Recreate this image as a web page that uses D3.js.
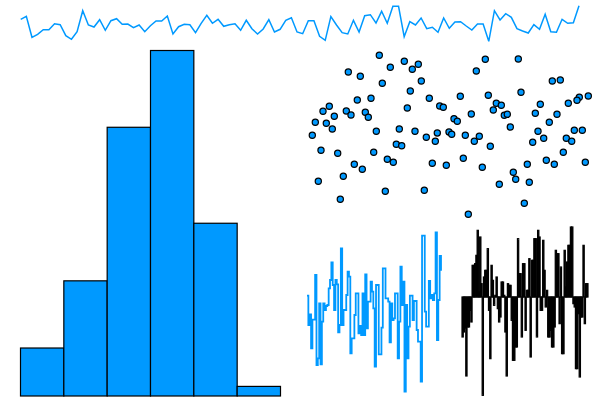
<!DOCTYPE html>
<html><head><meta charset="utf-8">
<script src="https://cdn.jsdelivr.net/npm/d3@7"></script>
<style>html,body{margin:0;padding:0;background:#fff}svg{display:block}</style>
</head><body>
<svg id="chart" width="600" height="400"></svg>
<script>
// ---- data ----
const lineValues = [25.7,28.7,7.7,10.7,15.3,15.3,21.3,20.3,9.3,5.7,13.3,34.3,20,18,25.3,14.7,24.3,26.3,20.7,21,
17.3,20,13.3,19.3,24,24,29,11,18.3,20.7,20.3,12.3,21.7,29.7,21.7,25.7,18.7,20.3,21.3,14.7,
24.7,16.3,11,16,25.3,13,15.7,24.7,27.3,13,11.3,24.3,24.3,8.7,4.7,28.3,20,12.3,11,24.7,
13,29.3,30.3,22,33.7,21.7,38.7,38.7,8.3,23.3,20,27,16.3,17.7,12.7,27,16.7,23,23.3,19,
15,21,21,3.7,34.3,25,31.3,27.7,16.3,14,12,20.3,15.7,30.7,13.3,12.7,25.7,21.7,22.3,39.3];

const binEdges = [-3,-2,-1,0,1,2,3];
const binCounts = [5,12,28,36,18,1];

const scatterX = [79.3,104.3,118.3,112.3,90.3,48.3,60.3,185.3,218.3,176.3,82.3,121.3,252.3,260.3,110.3,221,57.3,71,129.3,160.3,
188.3,279.3,288.3,277,268.3,240.3,29.3,23,46.3,51,65.3,68.3,34.3,107.3,139.7,143.3,196.3,201.3,193.3,171.3,
154,157.3,204.3,207.3,235.3,257,15.3,26.3,32.3,76.3,99.3,115,210.3,249.3,238,274.3,282.3,12.3,126.3,137.3,
135.3,149,151.7,165.3,174.3,179.3,190.3,232.7,243.7,266.3,271.7,21,37.7,73.7,96.3,101.7,54.3,62.3,87.3,93.3,
132.3,146.3,163.3,182.3,213.3,215.7,199.3,229.3,227.3,246.3,254.3,263.3,285.3,18.3,43.3,40.3,85.3,124.3,224.3,168.3];
const scatterY = [174.7,168.7,165.7,160.7,162.7,158,153.7,170.7,171,159,146.7,149,149,150,139,137.7,130,131.7,131.7,133.7,
134.7,132.7,134,129.7,126.7,125.7,123.7,118.7,119,115,117.7,112.7,113.7,122,124,122.7,126.7,124.7,120,116,
111.3,108.7,114.7,115.7,116.7,115.7,107.7,106.7,101,98.7,101,98.7,103,107.7,98.7,99.7,99.7,94.7,92.7,97,
88.7,98,95.7,94.7,88.7,93.7,83.7,87.7,91.7,91.7,88.7,79.7,76.7,77.7,85.7,84.3,65.7,60.7,70.7,67.7,
66.7,64.7,71.7,62.7,57.7,50.7,45.7,47.7,65.7,69.7,65.7,77.7,67.7,48.7,53.7,30.7,38.7,39.7,26.7,15.7];

const stepValues = [0.48,-0.40,-0.08,-1.10,-0.24,-0.24,1.10,-1.60,-1.40,0.25,-1.58,-0.30,0.25,0.05,0.17,0.20,0.70,0.95,1.48,0.80,
0.05,0.95,0.82,-0.62,-0.40,1.90,-0.40,0.05,0.05,0.50,1.20,1.05,-1.25,-0.80,-0.80,-0.10,0.55,0.55,-0.65,-0.43,
-0.70,0.55,-0.70,1.12,-0.50,0.30,0.30,0.90,0.60,0.10,-1.65,0.80,0.80,-1.28,-1.28,-0.48,1.30,1.30,0.40,0.40,
0.30,-0.92,0.25,-0.25,-0.20,0.55,0.55,-1.40,-0.30,1.35,0.20,0.90,-2.40,0.20,-1.40,-0.45,0.48,0.48,-0.25,0.32,
0.32,-0.55,-0.90,-0.90,-2.10,2.28,2.28,0.00,-0.45,-0.45,0.92,0.40,0.50,0.35,0.55,2.38,-0.85,0.35,1.67,1.23];

const barValues = [-1.20,-1.05,-0.93,-2.37,-0.90,-0.90,-0.40,-0.75,0.95,0.95,1.00,1.25,2.00,0.15,1.80,0.40,-2.95,0.60,0.80,0.80,
1.45,-0.40,-1.85,0.95,0.50,-0.25,0.05,0.60,-0.35,-0.75,-0.60,0.45,0.45,0.05,-1.05,-2.37,0.40,0.35,0.35,-0.70,
-1.90,-1.90,-1.50,-1.50,1.75,0.70,0.70,-1.20,1.00,1.00,-1.00,0.20,0.20,1.15,-1.80,1.10,1.10,1.75,1.75,-1.20,
2.00,1.80,-0.40,-0.40,1.70,0.80,-0.30,0.20,-1.20,-1.20,-1.00,-1.50,-1.50,-0.90,1.40,1.30,1.30,-0.80,0.90,-1.70,
-1.70,1.40,0.30,1.05,1.55,1.55,2.10,2.10,-0.20,-0.30,-2.15,-2.15,-0.50,-2.40,-0.60,-0.60,1.55,-0.80,0.40,0.40];

// ---- drawing ----
const svg = d3.select("#chart");
const BLUE = "#0099ff";

// top line
const lx = d3.scaleLinear().domain([0, lineValues.length - 1]).range([20.7, 579]);
const ly = d3.scaleLinear().domain([0, 45]).range([45, 0]);
svg.append("path")
  .attr("d", d3.line().x((d, i) => lx(i)).y(d => ly(d))(lineValues))
  .attr("fill", "none").attr("stroke", BLUE).attr("stroke-width", 1.5);

// histogram
const hx = d3.scaleLinear().domain([binEdges[0], binEdges[binEdges.length - 1]]).range([20.5, 280.5]);
const hy = d3.scaleLinear().domain([0, d3.max(binCounts)]).range([396, 50.5]);
svg.append("g").selectAll("rect").data(binCounts).join("rect")
  .attr("x", (d, i) => hx(binEdges[i]))
  .attr("width", (d, i) => hx(binEdges[i + 1]) - hx(binEdges[i]))
  .attr("y", d => hy(d))
  .attr("height", d => hy(0) - hy(d))
  .attr("fill", BLUE).attr("stroke", "#000").attr("stroke-width", 1.2);

// scatter
const sx = d3.scaleLinear().domain([0, 300]).range([300, 600]);
const sy = d3.scaleLinear().domain([0, 180]).range([230, 50]);
svg.append("g").selectAll("circle").data(scatterX).join("circle")
  .attr("cx", d => sx(d)).attr("cy", (d, i) => sy(scatterY[i]))
  .attr("r", 3.1).attr("fill", BLUE).attr("stroke", "#000").attr("stroke-width", 1.2);

// step line
const tx = d3.scaleLinear().domain([0, stepValues.length - 1]).range([307, 441]);
const ty = d3.scaleLinear().domain([-2.5, 2.5]).range([395, 228.3]);
svg.append("path")
  .attr("d", d3.line().curve(d3.curveStepAfter).x((d, i) => tx(i)).y(d => ty(d))(stepValues))
  .attr("fill", "none").attr("stroke", BLUE).attr("stroke-width", 1.8);

// bar plot
const bx = d3.scaleBand().domain(d3.range(barValues.length)).range([462, 588]).padding(0);
const by = d3.scaleLinear().domain([-3, 3]).range([397, 197]);
svg.append("g").selectAll("rect").data(barValues).join("rect")
  .attr("x", (d, i) => bx(i))
  .attr("width", bx.bandwidth())
  .attr("y", d => by(Math.max(0, d)))
  .attr("height", d => Math.abs(by(d) - by(0)))
  .attr("fill", "#000").attr("stroke", "#000").attr("stroke-width", 1.2);
</script>
</body></html>
